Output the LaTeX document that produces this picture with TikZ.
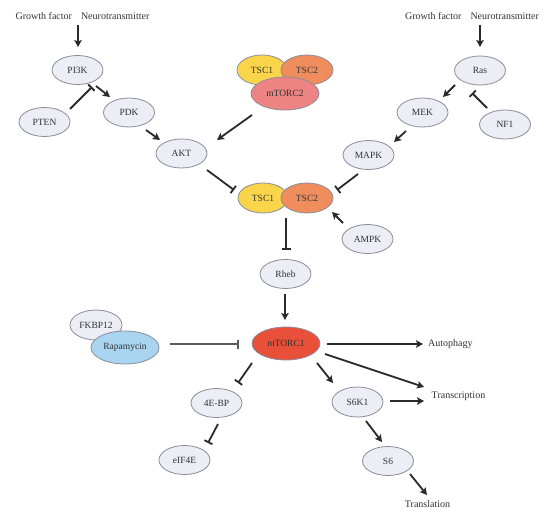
\documentclass[tikz,border=0pt]{standalone}
\usepackage{fontspec}
\setmainfont{Liberation Serif}
\usetikzlibrary{arrows.meta,calc,shapes.geometric}
\definecolor{pale}{HTML}{ECEDF5}
\definecolor{edgegray}{HTML}{8C8C9C}
\definecolor{tscone}{HTML}{FAD54A}
\definecolor{tsctwo}{HTML}{EF8D5C}
\definecolor{mtortwo}{HTML}{EE8383}
\definecolor{mtorone}{HTML}{E8503A}
\definecolor{rapa}{HTML}{A9D5F0}
\definecolor{ink}{HTML}{2A2A2A}
\definecolor{txt}{HTML}{333333}
\tikzset{
  prot/.style={ellipse,draw=edgegray,line width=0.8pt,fill=pale,minimum width=51pt,minimum height=29pt,inner sep=1pt,text=txt,font=\fontsize{9.5}{11}\selectfont},
  lbl/.style={inner sep=0pt,text=txt,font=\fontsize{10}{12}\selectfont},
  act/.style={draw=ink,line width=1.8pt,-{Stealth[length=7pt,width=7.5pt,inset=1.5pt]}},
  inh/.style={draw=ink,line width=1.8pt,-{Bar[width=9pt,line width=1.8pt]}},
  inhthin/.style={draw=black!65,line width=1.4pt,-{Bar[width=9pt,line width=1.6pt]}}
}
\begin{document}
\begin{tikzpicture}[x=1pt,y=-1pt]
\useasboundingbox[fill=white] (0,0) rectangle (553,513);
% labels
\node[lbl] (GFL) at (82.5,16) {Growth factor\hspace{0.9em}Neurotransmitter};
\node[lbl] (GFR) at (472,16) {Growth factor\hspace{0.9em}Neurotransmitter};
% left branch
\node[prot] (PI3K) at (77.5,70) {PI3K};
\node[prot] (PDK) at (129,112.5) {PDK};
\node[prot] (PTEN) at (44.5,122) {PTEN};
\node[prot] (AKT) at (181.5,153.5) {AKT};
% top complex
\node[prot,fill=tscone,minimum width=50pt,minimum height=30pt] (TSConeA) at (262,70) {TSC1};
\node[prot,fill=tsctwo,minimum width=52pt,minimum height=30pt] (TSCtwoA) at (307,70) {TSC2};
\node[prot,fill=mtortwo,minimum width=68pt,minimum height=33pt] (mTORC2) at (285,93.5) {mTORC2};
% right branch
\node[prot] (Ras) at (480,70.5) {Ras};
\node[prot] (MEK) at (422.5,112.5) {MEK};
\node[prot] (NF1) at (505,124.5) {NF1};
\node[prot] (MAPK) at (368.5,155) {MAPK};
% middle
\node[prot,fill=tscone,minimum width=50pt,minimum height=30pt] (TSCone) at (263,198) {TSC1};
\node[prot,fill=tsctwo,minimum width=52pt,minimum height=30pt] (TSCtwo) at (307,198) {TSC2};
\node[prot] (AMPK) at (367.5,239) {AMPK};
\node[prot] (Rheb) at (285.5,274) {Rheb};
\node[prot,fill=mtorone,minimum width=68pt,minimum height=33pt] (mTORC1) at (286,343.5) {mTORC1};
\node[prot,minimum width=52pt,minimum height=30pt] (FKBP) at (96,325) {FKBP12};
\node[prot,fill=rapa,minimum width=68pt,minimum height=33pt] (Rapa) at (125,347.5) {Rapamycin};
% bottom
\node[prot] (FourEBP) at (216.5,403) {4E-BP};
\node[prot] (eIF) at (184.5,460) {eIF4E};
\node[prot,minimum height=30pt] (S6K1) at (357.5,402) {S6K1};
\node[prot] (S6) at (388,461) {S6};
\node[lbl,anchor=west] (Auto) at (428,344) {Autophagy};
\node[lbl] (Trans) at (458.5,396) {Transcription};
\node[lbl] (Transl) at (427.5,504) {Translation};
% connectors
\draw[act] ($(GFL)+(-4.5,9)$) -- ($(PI3K)+(0.5,-23)$);
\draw[act] ($(PI3K)+(18.5,16)$) -- ($(PDK)+(-19,-15.5)$);
\draw[inh] ($(PTEN)+(25.5,-13)$) -- ($(PI3K)+(14.5,17)$);
\draw[act] ($(PDK)+(17,17.5)$) -- ($(AKT)+(-21.5,-13.5)$);
\draw[act] ($(mTORC2)+(-33,21.5)$) -- ($(AKT)+(35.5,-13.5)$);
\draw[inh] ($(AKT)+(25.5,16.5)$) -- ($(TSCone)+(-29,-8)$);
\draw[act] ($(GFR)+(8,9)$) -- ($(Ras)+(0,-23.5)$);
\draw[act] ($(Ras)+(-25,14.5)$) -- ($(MEK)+(20.5,-15.5)$);
\draw[inh] ($(NF1)+(-18,-16.5)$) -- ($(Ras)+(-8,22.5)$);
\draw[act] ($(MEK)+(-16.5,18.5)$) -- ($(MAPK)+(25.5,-13)$);
\draw[inh] ($(MAPK)+(-10.5,19)$) -- ($(TSCtwo)+(30,-8)$);
\draw[act] ($(AMPK)+(-24.5,-16)$) -- ($(TSCtwo)+(25,14)$);
\draw[inh] ($(TSCone)!0.5!(TSCtwo)+(1,20)$) -- ($(Rheb)+(0.5,-24)$);
\draw[act] ($(Rheb)+(-0.5,20)$) -- ($(mTORC1)+(-1,-23.5)$);
\draw[inhthin] ($(Rapa)+(45,-3.5)$) -- ($(mTORC1)+(-47,0.5)$);
\draw[act] ($(mTORC1)+(41,0.5)$) -- ($(Auto.west)+(-5,0)$);
\draw[act] ($(mTORC1)+(39,10.5)$) -- ($(Trans)+(-34.5,-9)$);
\draw[act] ($(mTORC1)+(31,19.5)$) -- ($(S6K1)+(-24.5,-19)$);
\draw[act] ($(S6K1)+(32.5,-1)$) -- ($(Trans)+(-34.5,5)$);
\draw[act] ($(S6K1)+(8.5,19)$) -- ($(S6)+(-6,-19)$);
\draw[act] ($(S6)+(22,13)$) -- ($(Transl)+(-0.5,-9)$);
\draw[inh] ($(mTORC1)+(-34,19.5)$) -- ($(FourEBP)+(21.5,-20)$);
\draw[inh] ($(FourEBP)+(1.5,21)$) -- ($(eIF)+(23.5,-17)$);
\end{tikzpicture}
\end{document}
